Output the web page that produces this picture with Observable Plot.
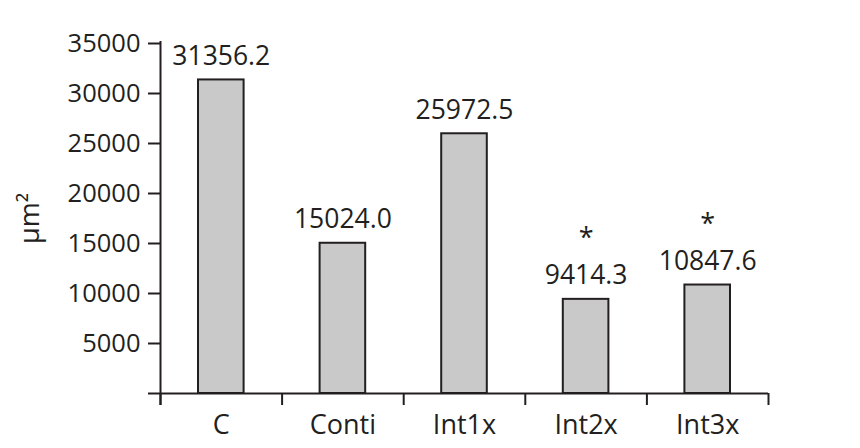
<!DOCTYPE html>
<html>
<head>
<meta charset="utf-8">
<script src="https://cdn.jsdelivr.net/npm/d3@7"></script>
<script src="https://cdn.jsdelivr.net/npm/@observablehq/plot@0.6"></script>
<style>
  html, body { margin: 0; padding: 0; background: #fff; }
</style>
</head>
<body>
<div id="chart"></div>
<script>
const categories = ["C", "Conti", "Int1x", "Int2x", "Int3x"];
const values = [31356.2, 15024.0, 25972.5, 9414.3, 10847.6];
const valueLabels = ["31356.2", "15024.0", "25972.5", "9414.3", "10847.6"];
const significance = ["", "", "", "*", "*"];
const yTicks = [5000, 10000, 15000, 20000, 25000, 30000, 35000];
const yLabel = "µm²";

const data = categories.map((c, i) => ({
  cat: c, i, value: values[i], label: valueLabels[i], sig: significance[i]
}));
const centers = categories.map((_, i) => i + 0.5);
const bounds = d3.range(categories.length + 1);

const ink = "#231f20";

const chart = Plot.plot({
  width: 860,
  height: 448,
  marginLeft: 160,
  marginRight: 92,
  marginTop: 43,
  marginBottom: 55,
  style: { fontFamily: "'Open Sans', sans-serif", color: ink, background: "#fff", overflow: "visible" },
  x: { type: "linear", domain: [0, categories.length], axis: null },
  y: { domain: [0, 35000], axis: null },
  marks: [
    Plot.rectY(data, {
      x1: d => d.i, x2: d => d.i + 1, y1: 0, y2: "value",
      insetLeft: 38, insetRight: 38,
      fill: "#c8c9c8", stroke: ink, strokeWidth: 2
    }),
    Plot.text(data, {
      x: d => d.i + 0.5, y: "value", text: "label",
      lineAnchor: "bottom", dy: -15, fontSize: 26.5, fill: ink
    }),
    Plot.text(data, {
      x: d => d.i + 0.5, y: "value", text: "sig",
      lineAnchor: "bottom", dy: -52, fontSize: 27, fill: ink
    }),
    Plot.axisY({
      ticks: yTicks, tickSize: 12, tickPadding: 8, fontSize: 25.5,
      strokeWidth: 2, stroke: ink,
      tickFormat: d => String(d),
      label: yLabel, labelAnchor: "center", labelOffset: 141, labelArrow: "none"
    }),
    Plot.axisX({
      ticks: centers, tickSize: 0, tickPadding: 21, fontSize: 27,
      tickFormat: d => categories[Math.floor(d)], label: null
    }),
    Plot.axisX({
      ticks: bounds, tickSize: 12, strokeWidth: 2, stroke: ink,
      tickFormat: () => "", label: null
    }),
    Plot.ruleY([0], { insetLeft: -12, stroke: ink, strokeWidth: 2 }),
    Plot.ruleX([0], { insetTop: -2, insetBottom: -12, stroke: ink, strokeWidth: 2 })
  ]
});

// enlarge the y-axis title to match the reference
chart.querySelectorAll("g[aria-label='y-axis label'] text").forEach(t => t.setAttribute("font-size", 27));

document.getElementById("chart").appendChild(chart);
</script>
</body>
</html>
